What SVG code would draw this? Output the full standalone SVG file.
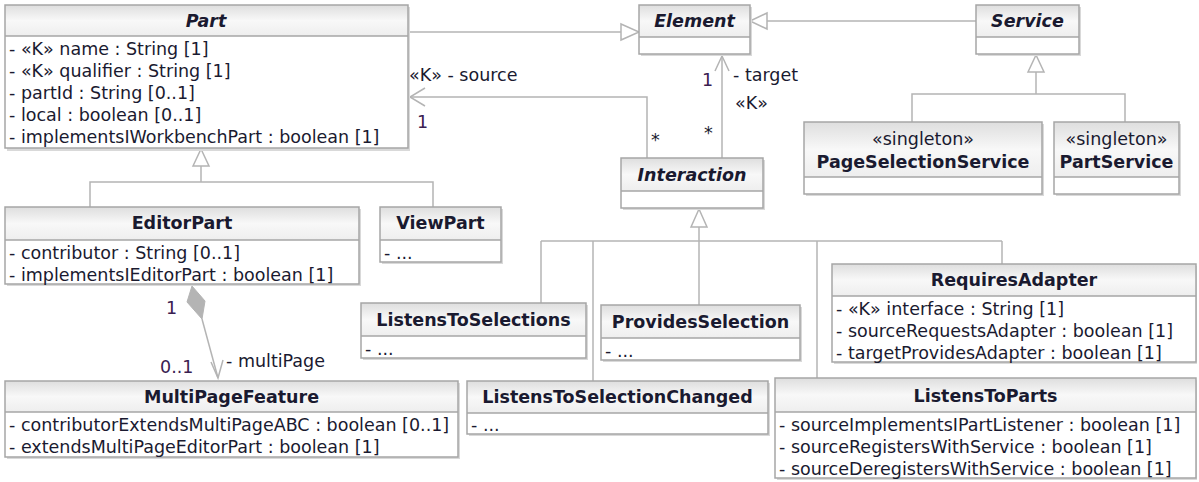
<svg xmlns="http://www.w3.org/2000/svg" width="1199" height="482" viewBox="0 0 1199 482">
<defs>
<linearGradient id="hdr" x1="0" y1="0" x2="0" y2="1">
<stop offset="0" stop-color="#dedede"/>
<stop offset="0.5" stop-color="#f8f8f8"/>
<stop offset="1" stop-color="#eeeeee"/>
</linearGradient>
<style>
.shd{fill:#d9d9d9}
.box{fill:#fff}
.hd{fill:url(#hdr)}
.ol{fill:none;stroke:#a6a6a6;stroke-width:1.5}
.sep{stroke:#a6a6a6;stroke-width:1.5}
text{font-family:"DejaVu Sans",sans-serif;font-size:17.5px;fill:#1a1a30}
.t{font-weight:bold;text-anchor:middle}
.ti{font-weight:bold;font-style:italic;text-anchor:middle}
.st{text-anchor:middle}
.c{fill:none;stroke:#b4b4b4;stroke-width:1.5}
.tri{fill:#fff;stroke:#b4b4b4;stroke-width:1.5}
.dia{fill:#b4b4b4;stroke:#b4b4b4;stroke-width:1}
.m{fill:#3a2050}
</style>
</defs>

<g id="connectors">
<!-- Part -> Element -->
<line class="c" x1="408" y1="32" x2="621" y2="32"/>
<polygon class="tri" points="621,24 639,32 621,40"/>
<!-- Service -> Element -->
<line class="c" x1="976" y1="21" x2="767" y2="21"/>
<polygon class="tri" points="767,13 750,21 767,29"/>
<!-- Services generalization -->
<polyline class="c" points="912,122 912,94 1125,94 1125,122"/>
<line class="c" x1="1036" y1="94" x2="1036" y2="72"/>
<polygon class="tri" points="1028,72 1036,55 1044,72"/>
<!-- Parts generalization -->
<polyline class="c" points="90,207 90,182 433,182 433,207"/>
<line class="c" x1="201" y1="182" x2="201" y2="166"/>
<polygon class="tri" points="193,166 201,149 209,166"/>
<!-- Interaction generalization -->
<line class="c" x1="541" y1="241" x2="1002" y2="241"/>
<line class="c" x1="541" y1="241" x2="541" y2="303"/>
<line class="c" x1="593" y1="241" x2="593" y2="381"/>
<line class="c" x1="699" y1="241" x2="699" y2="305"/>
<line class="c" x1="817" y1="241" x2="817" y2="378"/>
<line class="c" x1="1002" y1="241" x2="1002" y2="264"/>
<line class="c" x1="699" y1="241" x2="699" y2="227"/>
<polygon class="tri" points="691,227 699,209 707,227"/>
<!-- source association -->
<polyline class="c" points="647,158 647,97 409,97"/>
<polyline class="c" points="425,88 410,97 425,106"/>
<!-- target association -->
<line class="c" x1="722" y1="158" x2="722" y2="56"/>
<polyline class="c" points="715,71 722,56 729,71"/>
<!-- composition -->
<polygon class="dia" points="192,286 205,301 202,319 187,302"/>
<line class="c" x1="202" y1="319" x2="218" y2="378"/>
<polyline class="c" points="211,362 218,378 223,360"/>
<!-- labels -->
<text x="409" y="81">«K» - source</text>
<text class="m" x="417" y="128">1</text>
<text x="651" y="146">*</text>
<text class="m" x="702" y="86">1</text>
<text x="733" y="81">- target</text>
<text x="735" y="109">«K»</text>
<text x="704" y="139">*</text>
<text class="m" x="166" y="314">1</text>
<text class="m" x="160" y="373">0..1</text>
<text x="226" y="367">- multiPage</text>
</g>

<g id="Part">
<rect class="shd" x="7" y="7" width="403" height="144"/>
<rect class="box" x="5" y="5" width="403" height="143"/>
<rect class="hd" x="5" y="5" width="403" height="31"/>
<line class="sep" x1="5" y1="36" x2="408" y2="36"/>
<rect class="ol" x="5" y="5" width="403" height="143"/>
<text class="ti" x="206" y="27">Part</text>
<text x="9" y="55">- «K» name : String [1]</text>
<text x="9" y="77">- «K» qualifier : String [1]</text>
<text x="9" y="99">- partId : String [0..1]</text>
<text x="9" y="121">- local : boolean [0..1]</text>
<text x="9" y="143">- implementsIWorkbenchPart : boolean [1]</text>
</g>

<g id="Element">
<rect class="shd" x="641" y="7" width="111" height="49"/>
<rect class="box" x="639" y="5" width="111" height="49"/>
<rect class="hd" x="639" y="5" width="111" height="32"/>
<line class="sep" x1="639" y1="37" x2="750" y2="37"/>
<rect class="ol" x="639" y="5" width="111" height="49"/>
<text class="ti" x="694.5" y="27">Element</text>
</g>

<g id="Service">
<rect class="shd" x="978" y="7" width="103" height="49"/>
<rect class="box" x="976" y="5" width="103" height="49"/>
<rect class="hd" x="976" y="5" width="103" height="32"/>
<line class="sep" x1="976" y1="37" x2="1079" y2="37"/>
<rect class="ol" x="976" y="5" width="103" height="49"/>
<text class="ti" x="1027.5" y="27">Service</text>
</g>

<g id="PageSelectionService">
<rect class="shd" x="806" y="124" width="238" height="72"/>
<rect class="box" x="804" y="122" width="238" height="72"/>
<rect class="hd" x="804" y="122" width="238" height="55"/>
<line class="sep" x1="804" y1="177" x2="1042" y2="177"/>
<rect class="ol" x="804" y="122" width="238" height="72"/>
<text class="st" x="923" y="145">«singleton»</text>
<text class="t" x="923" y="168">PageSelectionService</text>
</g>

<g id="PartService">
<rect class="shd" x="1056" y="124" width="125" height="72"/>
<rect class="box" x="1054" y="122" width="125" height="72"/>
<rect class="hd" x="1054" y="122" width="125" height="55"/>
<line class="sep" x1="1054" y1="177" x2="1179" y2="177"/>
<rect class="ol" x="1054" y="122" width="125" height="72"/>
<text class="st" x="1116.5" y="145">«singleton»</text>
<text class="t" x="1116.5" y="168">PartService</text>
</g>

<g id="Interaction">
<rect class="shd" x="623" y="160" width="142" height="50"/>
<rect class="box" x="621" y="158" width="142" height="50"/>
<rect class="hd" x="621" y="158" width="142" height="33"/>
<line class="sep" x1="621" y1="191" x2="763" y2="191"/>
<rect class="ol" x="621" y="158" width="142" height="50"/>
<text class="ti" x="692" y="181">Interaction</text>
</g>

<g id="EditorPart">
<rect class="shd" x="7" y="209" width="354" height="77"/>
<rect class="box" x="5" y="207" width="354" height="77"/>
<rect class="hd" x="5" y="207" width="354" height="33"/>
<line class="sep" x1="5" y1="240" x2="359" y2="240"/>
<rect class="ol" x="5" y="207" width="354" height="77"/>
<text class="t" x="182" y="229">EditorPart</text>
<text x="9" y="259">- contributor : String [0..1]</text>
<text x="9" y="281">- implementsIEditorPart : boolean [1]</text>
</g>

<g id="ViewPart">
<rect class="shd" x="382" y="209" width="121" height="55"/>
<rect class="box" x="380" y="207" width="121" height="55"/>
<rect class="hd" x="380" y="207" width="121" height="33"/>
<line class="sep" x1="380" y1="240" x2="501" y2="240"/>
<rect class="ol" x="380" y="207" width="121" height="55"/>
<text class="t" x="440.5" y="229">ViewPart</text>
<text x="384" y="259">- ...</text>
</g>

<g id="ListensToSelections">
<rect class="shd" x="363" y="305" width="225" height="55"/>
<rect class="box" x="361" y="303" width="225" height="55"/>
<rect class="hd" x="361" y="303" width="225" height="33"/>
<line class="sep" x1="361" y1="336" x2="586" y2="336"/>
<rect class="ol" x="361" y="303" width="225" height="55"/>
<text class="t" x="473.5" y="326">ListensToSelections</text>
<text x="365" y="355">- ...</text>
</g>

<g id="ProvidesSelection">
<rect class="shd" x="603" y="307" width="199" height="55"/>
<rect class="box" x="601" y="305" width="199" height="55"/>
<rect class="hd" x="601" y="305" width="199" height="33"/>
<line class="sep" x1="601" y1="338" x2="800" y2="338"/>
<rect class="ol" x="601" y="305" width="199" height="55"/>
<text class="t" x="700.5" y="328">ProvidesSelection</text>
<text x="605" y="357">- ...</text>
</g>

<g id="RequiresAdapter">
<rect class="shd" x="834" y="266" width="363" height="98"/>
<rect class="box" x="832" y="264" width="364" height="98"/>
<rect class="hd" x="832" y="264" width="364" height="32"/>
<line class="sep" x1="832" y1="296" x2="1196" y2="296"/>
<rect class="ol" x="832" y="264" width="364" height="98"/>
<text class="t" x="1014" y="286">RequiresAdapter</text>
<text x="836" y="315">- «K» interface : String [1]</text>
<text x="836" y="337">- sourceRequestsAdapter : boolean [1]</text>
<text x="836" y="359">- targetProvidesAdapter : boolean [1]</text>
</g>

<g id="MultiPageFeature">
<rect class="shd" x="7" y="383" width="453" height="76"/>
<rect class="box" x="5" y="381" width="453" height="76"/>
<rect class="hd" x="5" y="381" width="453" height="31"/>
<line class="sep" x1="5" y1="412" x2="458" y2="412"/>
<rect class="ol" x="5" y="381" width="453" height="76"/>
<text class="t" x="231.5" y="403">MultiPageFeature</text>
<text x="9" y="431">- contributorExtendsMultiPageABC : boolean [0..1]</text>
<text x="9" y="453">- extendsMultiPageEditorPart : boolean [1]</text>
</g>

<g id="ListensToSelectionChanged">
<rect class="shd" x="469" y="383" width="301" height="53"/>
<rect class="box" x="467" y="381" width="301" height="53"/>
<rect class="hd" x="467" y="381" width="301" height="32"/>
<line class="sep" x1="467" y1="413" x2="768" y2="413"/>
<rect class="ol" x="467" y="381" width="301" height="53"/>
<text class="t" x="617.5" y="403">ListensToSelectionChanged</text>
<text x="471" y="431">- ...</text>
</g>

<g id="ListensToParts">
<rect class="shd" x="777" y="380" width="420" height="100"/>
<rect class="box" x="775" y="378" width="421" height="100"/>
<rect class="hd" x="775" y="378" width="421" height="34"/>
<line class="sep" x1="775" y1="412" x2="1196" y2="412"/>
<rect class="ol" x="775" y="378" width="421" height="100"/>
<text class="t" x="985.5" y="402">ListensToParts</text>
<text x="779" y="431">- sourceImplementsIPartListener : boolean [1]</text>
<text x="779" y="453">- sourceRegistersWithService : boolean [1]</text>
<text x="779" y="475">- sourceDeregistersWithService : boolean [1]</text>
</g>
</svg>
